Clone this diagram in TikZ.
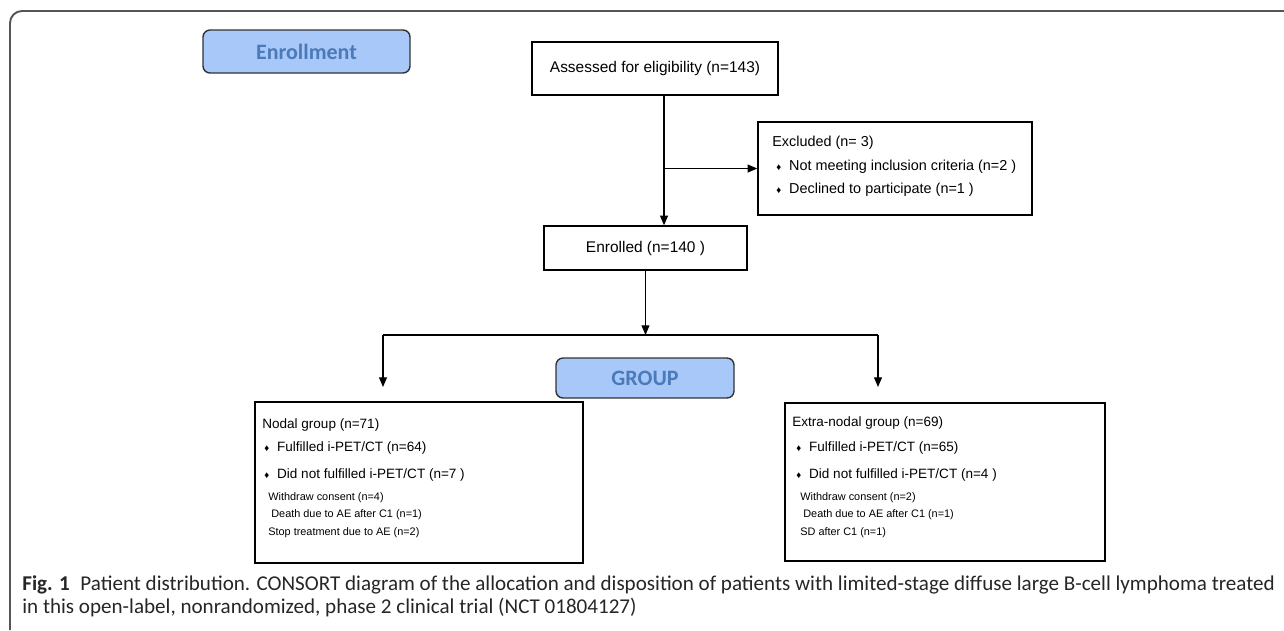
\documentclass[tikz,border=0pt]{standalone}
\usepackage{fontspec}
\setmainfont{Liberation Sans}
\newfontfamily\stagefont{Carlito}
\newfontfamily\capfont{Carlito}
\usepackage{tikz}
\usetikzlibrary{arrows.meta,positioning}

\definecolor{stagefill}{RGB}{168,200,250}
\definecolor{stagetext}{RGB}{74,122,184}
\definecolor{framegray}{RGB}{85,85,85}

\def\px{0.02cm}
\tikzset{
  box/.style={draw=black, line width=0.8pt, inner sep=0pt},
  stage/.style={draw=black!80, fill=stagefill, rounded corners=4pt, line width=0.8pt,
    text=stagetext, font=\stagefont\bfseries\fontsize{12.5}{14}\selectfont},
  flow/.style={line width=0.7pt, -{Triangle[length=5.5pt,width=4.5pt]}},
  link/.style={line width=0.7pt},
  headtxt/.style={font=\fontsize{8.8}{10}\selectfont},
  excltxt/.style={anchor=west, inner sep=0pt, font=\fontsize{8.2}{10}\selectfont},
  itemtxt/.style={anchor=west, inner sep=0pt, font=\fontsize{7.7}{9}\selectfont},
  subtxt/.style={anchor=west, inner sep=0pt, font=\fontsize{6.2}{7}\selectfont},
}
\newcommand{\bul}{{\fontsize{5.5}{5.5}\selectfont ♦}\hspace{4.5pt}}

\begin{document}
\begin{tikzpicture}[x=\px, y=-\px]
    \useasboundingbox (0,0) rectangle (1284,630);
    % frame of the figure
    \draw[framegray, line width=1.1pt, rounded corners=0.24cm] (10,630) -- (10,11) -- (1284,11);

    % stage labels
    \node[stage, minimum width=207*\px, minimum height=43*\px] (enroll) at (306.5,51.5) {Enrollment};
    \node[stage, minimum width=178*\px, minimum height=40*\px] (group) at (645,378) {GROUP};

    % boxes
    \node[box, headtxt, minimum width=246*\px, minimum height=53*\px] (assess) at (655,68.5) {Assessed for eligibility (n=143)};
    \node[box, minimum width=274*\px, minimum height=93*\px] (excl) at (895,168.5) {};
    \node[box, headtxt, minimum width=203*\px, minimum height=44*\px] (enrolled) at (645.5,248) {Enrolled (n=140 )};
    \node[box, minimum width=328*\px, minimum height=161*\px] (nodal) at (419,482.5) {};
    \node[box, minimum width=320*\px, minimum height=158*\px] (extra) at (945,482) {};

    % excluded
    \node[excltxt] (exclhead) at (772,143) {Excluded (n= 3)};
    \node[excltxt] (excla) at (776,167) {\bul Not meeting inclusion criteria (n=2 )};
    \node[excltxt] (exclb) at (776,190) {\bul Declined to participate (n=1 )};

    % nodal group
    \node[itemtxt] (nodhead) at (262,425) {Nodal group (n=71)};
    \node[itemtxt] (noda) at (264,448) {\bul Fulfilled i-PET/CT (n=64)};
    \node[itemtxt] (nodb) at (264,475) {\bul Did not fulfilled i-PET/CT (n=7 )};
    \node[subtxt] (nodc) at (268,498) {Withdraw consent (n=4)};
    \node[subtxt] (nodd) at (271,515) {Death due to AE after C1 (n=1)};
    \node[subtxt] (node) at (268,533) {Stop treatment due to AE (n=2)};

    % extra-nodal group
    \node[itemtxt] (exthead) at (792,423) {Extra-nodal group (n=69)};
    \node[itemtxt] (exta) at (796,448) {\bul Fulfilled i-PET/CT (n=65)};
    \node[itemtxt] (extb) at (796,475) {\bul Did not fulfilled i-PET/CT (n=4 )};
    \node[subtxt] (extc) at (800,498) {Withdraw consent (n=2)};
    \node[subtxt] (extd) at (803,515) {Death due to AE after C1 (n=1)};
    \node[subtxt] (exte) at (800,533) {SD after C1 (n=1)};

    % connectors
    \coordinate (trunk) at ([xshift=9*\px]assess.south);
    \coordinate (split) at (645.5,335);
    \coordinate (lsplit) at (383,335);
    \coordinate (rsplit) at (878,335);
    \coordinate (ldrop) at (383,387);
    \coordinate (rdrop) at (878,387);
    \draw[flow] (trunk) -- (trunk |- enrolled.north);
    \draw[flow] (trunk |- excl.west) -- (excl.west);
    \draw[flow] (enrolled.south) -- (split);
    \draw[link] (lsplit) -- (rsplit);
    \draw[line width=1.4pt] ([xshift=-58*\px]split) -- ([xshift=28*\px]split);
    \draw[flow] (lsplit) -- (ldrop);
    \draw[flow] (rsplit) -- (rdrop);

    % caption
    \node[anchor=west, inner sep=0pt, align=left, text=black!85,
      font=\capfont\fontsize{12}{13}\selectfont] (caption) at (22,596.5)
      {\textbf{Fig. 1}\hspace{6pt}Patient distribution. CONSORT diagram of the allocation and disposition of patients with limited-stage diffuse large B-cell lymphoma treated\\
       in this open-label, nonrandomized, phase 2 clinical trial (NCT 01804127)};
\end{tikzpicture}
\end{document}
